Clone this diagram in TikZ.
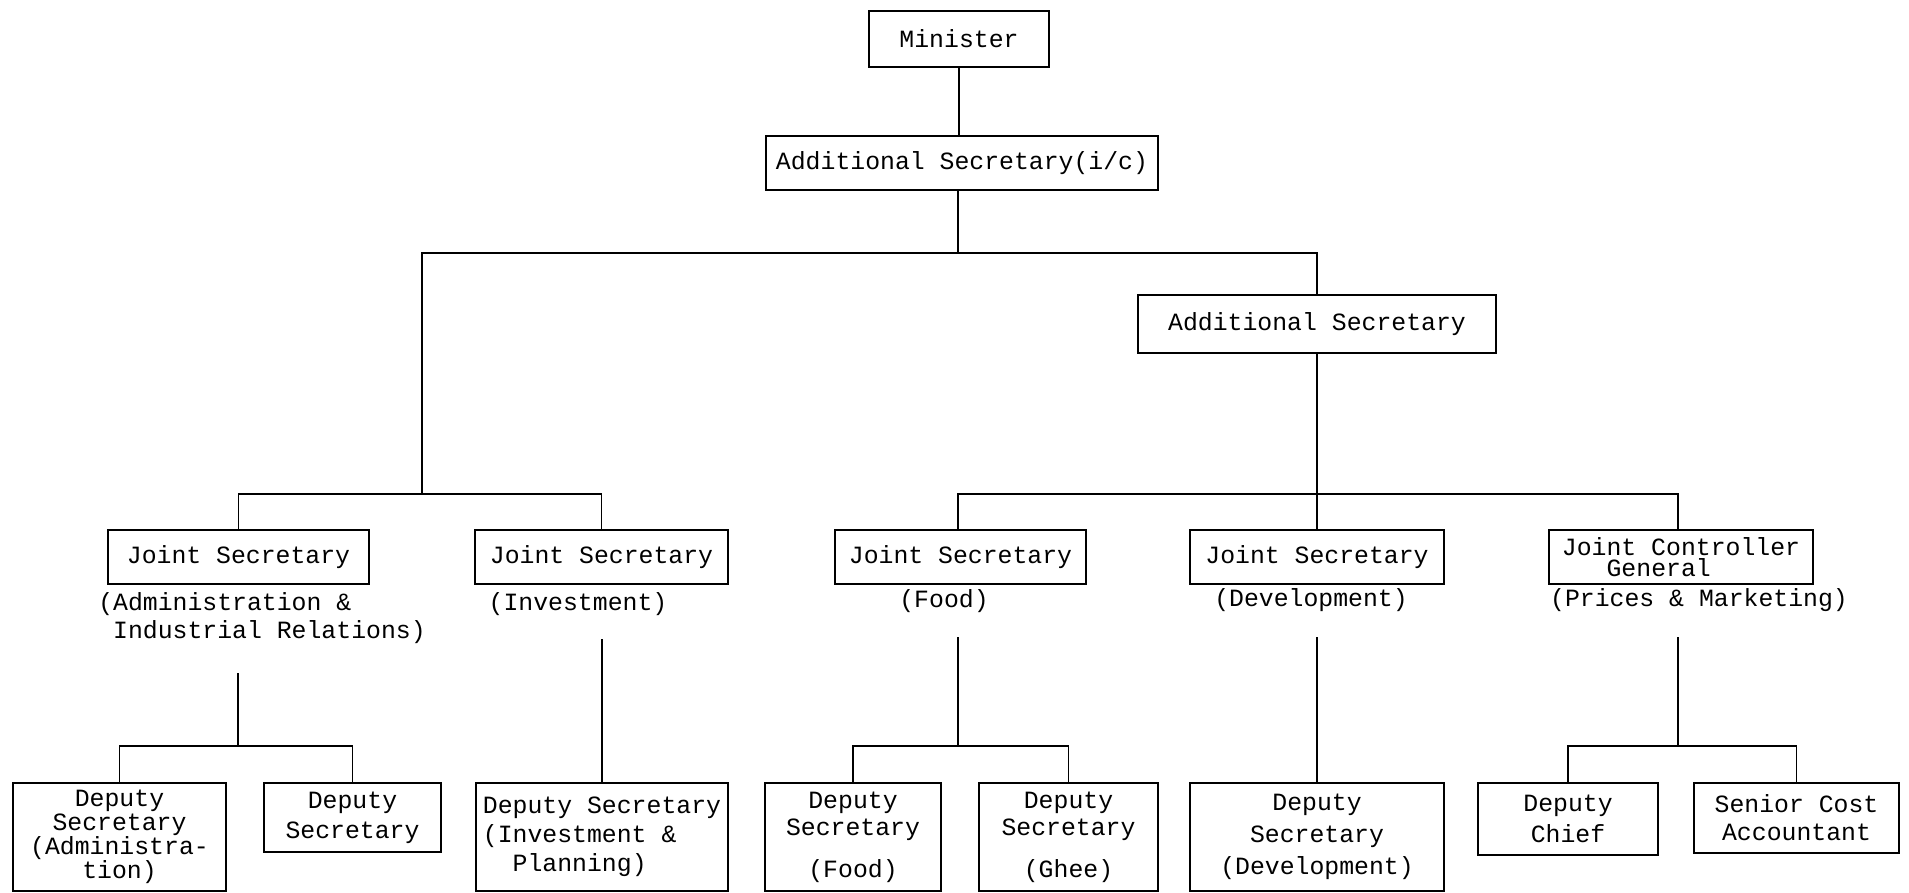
\documentclass[tikz,border=0pt]{standalone}
\usepackage{fontspec}
\newfontfamily\cour{Liberation Mono}
\begin{document}
\begin{tikzpicture}[x=0.5pt,y=-0.5pt,
  box/.style={draw,line width=1.35pt,inner sep=0pt,align=center,
    font=\cour\fontsize{12.4}{14}\selectfont},
  lab/.style={inner sep=0pt,font=\cour\fontsize{12.4}{14}\selectfont},
  conn/.style={line width=0.9pt}]
\useasboundingbox[fill=white] (0,0) rectangle (1909,893);
% top
\node[box,minimum width=90pt,minimum height=28pt] (min) at (959,39) {Minister};
\node[box,minimum width=196pt,minimum height=27pt] (asic) at (962,163) {Additional Secretary(i/c)};
\node[box,minimum width=179pt,minimum height=29pt] (as) at (1317,324) {Additional Secretary};
% joint secretaries
\node[box,minimum width=130.5pt,minimum height=27pt] (js1) at (238.5,557) {Joint Secretary};
\node[box,minimum width=126.5pt,minimum height=27pt] (js2) at (601.5,557) {Joint Secretary};
\node[box,minimum width=125.5pt,minimum height=27pt] (jsf) at (960.5,557) {Joint Secretary};
\node[box,minimum width=127pt,minimum height=27pt] (jsd) at (1317,557) {Joint Secretary};
\node[box,minimum width=132pt,minimum height=27pt,align=left,
  font=\cour\fontsize{12.4}{10.5}\selectfont] (jcg) at (1681,557) {Joint Controller\\\hphantom{Joi}General};
% labels
\node[lab,align=left] (l1) at (262,618) {(Administration \&\\\hphantom{(}Industrial Relations)};
\node[lab] (l2) at (578,604) {(Investment)};
\node[lab] (l3) at (944,601) {(Food)};
\node[lab] (l4) at (1311,600) {(Development)};
\node[lab] (l5) at (1699,600) {(Prices \& Marketing)};
% deputies
\node[box,minimum width=106.5pt,minimum height=54pt,
  font=\cour\fontsize{12.4}{12}\selectfont] (dsa) at (119.5,837) {Deputy\\Secretary\\(Administra-\\tion)};
\node[box,minimum width=88.5pt,minimum height=34.5pt,
  font=\cour\fontsize{12.4}{15}\selectfont] (ds2) at (352.5,817.5) {Deputy\\Secretary};
\node[box,minimum width=126pt,minimum height=54pt,align=left,
  font=\cour\fontsize{12.4}{14.5}\selectfont] (dsi) at (602,837) {Deputy Secretary\\(Investment \&\\\hphantom{(I}Planning)};
\node[box,minimum width=88pt,minimum height=54pt,
  font=\cour\fontsize{12.4}{13.5}\selectfont] (dsf) at (853,837) {Deputy\\Secretary\\[7.5pt](Food)};
\node[box,minimum width=89.5pt,minimum height=54pt,
  font=\cour\fontsize{12.4}{13.5}\selectfont] (dsg) at (1068.5,837) {Deputy\\Secretary\\[7.5pt](Ghee)};
\node[box,minimum width=127pt,minimum height=54pt,
  font=\cour\fontsize{12.4}{16}\selectfont] (dsd) at (1317,837) {Deputy\\Secretary\\(Development)};
\node[box,minimum width=90pt,minimum height=36pt,
  font=\cour\fontsize{12.4}{15.5}\selectfont] (dc) at (1568,819) {Deputy\\Chief};
\node[box,minimum width=102.5pt,minimum height=35pt,
  font=\cour\fontsize{12.4}{14}\selectfont] (sca) at (1796.5,818) {Senior Cost\\Accountant};
% junction coordinates
\coordinate (tL) at (422,253);
\coordinate (bL) at (422,494);
\coordinate (bR) at (1317,494);
\coordinate (s1) at (238,673);
\coordinate (m1) at (238,746);
\coordinate (s2) at (602,639);
\coordinate (s3) at (958,637);
\coordinate (m3) at (958,746);
\coordinate (s4) at (1317,637);
\coordinate (s5) at (1678,637);
\coordinate (m5) at (1678,746);
\coordinate (tC) at (958,253);
% connectors
\draw[conn] (min.south) -- (min.south |- asic.north);
\draw[conn] (tC |- asic.south) -- (tC);
\draw[conn] (bL) -- (tL) -| (as.north);
\draw[conn] (js1.north) |- (bL) -| (js2.north);
\draw[conn] (as.south) -- (bR);
\draw[conn] (jsf.north -| s3) |- (bR) -| (jcg.north -| s5);
\draw[conn] (jsd.north) -- (bR);
\draw[conn] (s1) -- (m1);
\draw[conn] (dsa.north) |- (m1) -| (ds2.north);
\draw[conn] (s2) -- (dsi.north);
\draw[conn] (s3) -- (m3);
\draw[conn] (dsf.north) |- (m3) -| (dsg.north);
\draw[conn] (s4) -- (dsd.north);
\draw[conn] (s5) -- (m5);
\draw[conn] (dc.north) |- (m5) -| (sca.north);
\end{tikzpicture}
\end{document}
